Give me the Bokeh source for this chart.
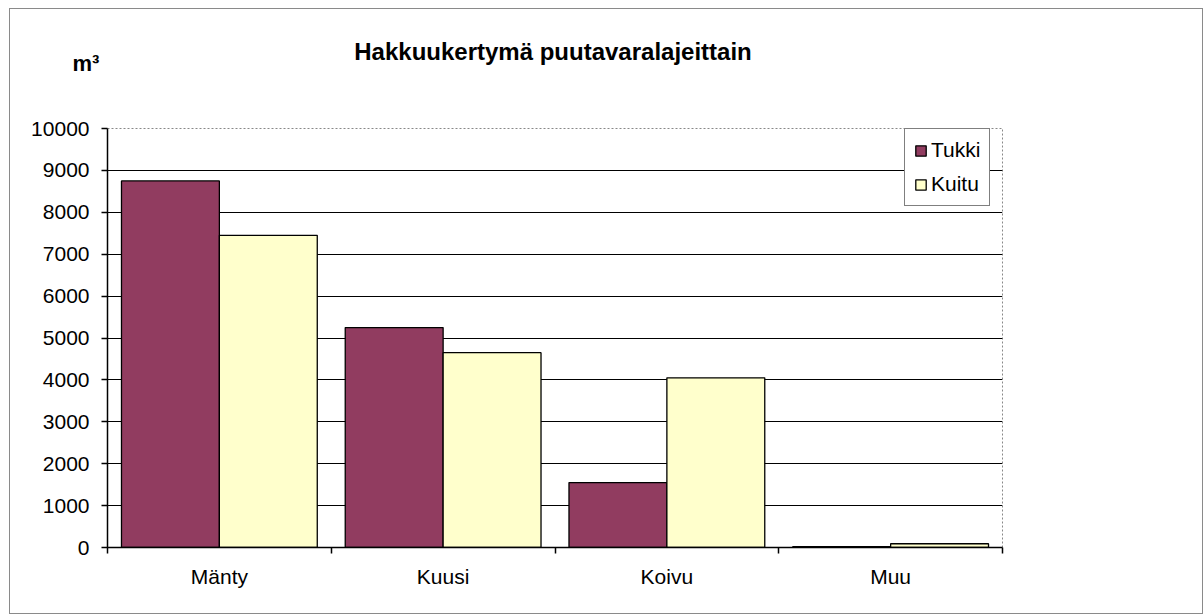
from bokeh.plotting import figure
from bokeh.models import (Range1d, FixedTicker, Grid, Legend, LegendItem, Label,
                          ColumnDataSource)
from bokeh.embed import file_html
from bokeh.resources import INLINE

categories = ["Mänty", "Kuusi", "Koivu", "Muu"]
tukki = [8750, 5250, 1550, 20]
kuitu = [7450, 4650, 4050, 90]
y_ticks = [0, 1000, 2000, 3000, 4000, 5000, 6000, 7000, 8000, 9000, 10000]
title_text = "Hakkuukertymä puutavaralajeittain"
unit_text = "m³"

FONT = "Liberation Sans"
bar_w = 0.4375
idx = list(range(len(categories)))
src = ColumnDataSource(dict(
    cat=categories,
    x_t=[i + 0.5 - bar_w / 2 for i in idx],
    x_k=[i + 0.5 + bar_w / 2 for i in idx],
    tukki=tukki, kuitu=kuitu))

p = figure(width=1194, height=606, output_backend="svg", toolbar_location=None,
           x_range=Range1d(0, len(categories)), y_range=Range1d(0, 10000),
           min_border_left=97, min_border_right=202, min_border_top=119,
           min_border_bottom=68)
p.styles = {"border": "1px solid #8a8a8a", "box-sizing": "border-box",
            "margin-left": "9px", "margin-top": "8px"}

r1 = p.vbar(x="x_t", top="tukki", width=bar_w, source=src, fill_color="#913c60",
            line_color="black", line_width=1.3)
r2 = p.vbar(x="x_k", top="kuitu", width=bar_w, source=src, fill_color="#ffffcc",
            line_color="black", line_width=1.3)

p.outline_line_color = "#888888"
p.outline_line_dash = "2 2"
p.outline_line_width = 1

p.xgrid.visible = False
p.ygrid.ticker = FixedTicker(ticks=y_ticks[1:-1])
p.ygrid.grid_line_color = "black"
p.ygrid.grid_line_width = 1.2
top_grid = Grid(dimension=1, ticker=FixedTicker(ticks=[y_ticks[-1]]),
                grid_line_color="#777777", grid_line_dash="3 1", grid_line_width=1)
p.add_layout(top_grid)

p.yaxis.ticker = FixedTicker(ticks=y_ticks, minor_ticks=[])
p.yaxis.major_tick_out = 6
p.yaxis.major_tick_in = 0
p.yaxis.minor_tick_out = 0
p.yaxis.axis_line_color = "black"
p.yaxis.axis_line_width = 1.5
p.yaxis.major_tick_line_width = 1.5
p.yaxis.major_label_text_font = FONT
p.yaxis.major_label_text_font_size = "21px"
p.yaxis.major_label_text_color = "black"
p.yaxis.major_label_standoff = 12

p.xaxis.ticker = FixedTicker(ticks=[i + 0.5 for i in idx],
                             minor_ticks=list(range(len(categories) + 1)))
p.xaxis.major_label_overrides = {i + 0.5: c for i, c in zip(idx, categories)}
p.xaxis.major_tick_out = 0
p.xaxis.major_tick_in = 0
p.xaxis.minor_tick_out = 6
p.xaxis.minor_tick_in = 0
p.xaxis.minor_tick_line_color = "black"
p.xaxis.minor_tick_line_width = 1.5
p.xaxis.axis_line_color = "black"
p.xaxis.axis_line_width = 1.5
p.xaxis.major_label_text_font = FONT
p.xaxis.major_label_text_font_size = "21px"
p.xaxis.major_label_text_color = "black"
p.xaxis.major_label_standoff = 11

legend = Legend(items=[LegendItem(label="Tukki", renderers=[r1]),
                       LegendItem(label="Kuitu", renderers=[r2])],
                location=(797, 341), orientation="vertical")
legend.border_line_color = "black"
legend.border_line_width = 1.2
legend.background_fill_color = "white"
legend.background_fill_alpha = 1
legend.label_text_font = FONT
legend.label_text_font_size = "21px"
legend.label_text_color = "black"
legend.glyph_width = 13
legend.glyph_height = 13
legend.label_standoff = 4
legend.label_height = 22
legend.spacing = 10
legend.padding = 9
legend.margin = 0
p.add_layout(legend, "center")

p.add_layout(Label(x=445.5, y=77, x_units="screen", y_units="screen",
                   text=title_text, text_align="center", text_baseline="alphabetic",
                   text_font=FONT, text_font_style="bold", text_font_size="24px",
                   text_color="black"), "above")
p.add_layout(Label(x=-35, y=38, x_units="screen", y_units="screen",
                   text=unit_text, text_align="left", text_baseline="alphabetic",
                   text_font=FONT, text_font_style="bold", text_font_size="22px",
                   text_color="black"), "above")

open("out.html", "w").write(file_html(p, INLINE))
